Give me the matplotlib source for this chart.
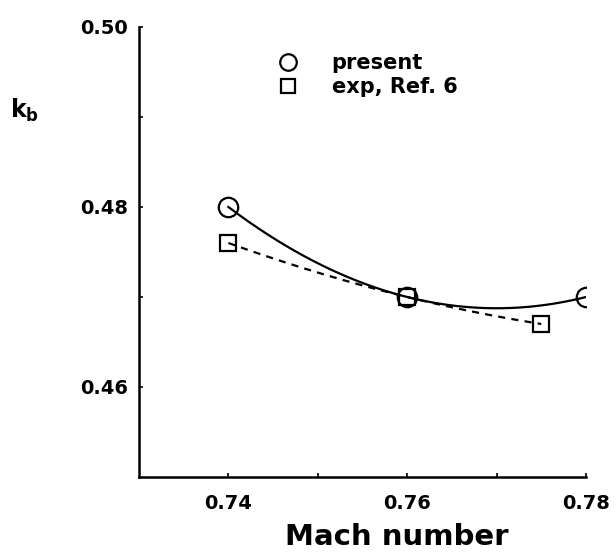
import numpy as np
import matplotlib
matplotlib.use("Agg")
import matplotlib.pyplot as plt

plt.rcParams['font.family'] = ['DejaVu Sans']
plt.rcParams['mathtext.default'] = 'bf'

# data
mach_present = [0.74, 0.76, 0.78]
kb_present = [0.480, 0.470, 0.470]
mach_exp = [0.74, 0.76, 0.775]
kb_exp = [0.476, 0.470, 0.467]
xticks = [0.74, 0.76, 0.78]
xtick_labels = ["0.74", "0.76", "0.78"]
yticks = [0.46, 0.48, 0.50]
ytick_labels = ["0.46", "0.48", "0.50"]

fig = plt.figure(figsize=(6.16, 5.56), dpi=100)
ax = fig.add_axes([139/616, 1-477/556, (586-139)/616, (477-27)/556])

# smooth curves through the data points
cp = np.polyfit(mach_present, kb_present, 2)
xs = np.linspace(mach_present[0], mach_present[-1], 200)
ax.plot(xs, np.polyval(cp, xs), color='black', lw=1.6, zorder=2)
ce = np.polyfit(mach_exp, kb_exp, 2)
xe = np.linspace(mach_exp[0], mach_exp[-1], 200)
ax.plot(xe, np.polyval(ce, xe), color='black', lw=1.6, ls=(0, (3.2, 2.8)), zorder=2)

ax.plot(mach_present, kb_present, 'o', ms=14, mfc='none', mec='black', mew=1.6,
        label='present', zorder=3)
ax.plot(mach_exp, kb_exp, 's', ms=12, mfc='none', mec='black', mew=1.6,
        label='exp, Ref. 6', zorder=3)

leg = ax.legend(loc='upper left', bbox_to_anchor=(0.268, 0.984), frameon=False,
                handlelength=1.0, handletextpad=1.6, labelspacing=0.2,
                markerscale=0.85, prop={'size': 15, 'weight': 'bold'})

ax.set_xlim(0.73, 0.78)
ax.set_ylim(0.45, 0.50)
for s in ['top', 'right']:
    ax.spines[s].set_visible(False)
for s in ['left', 'bottom']:
    ax.spines[s].set_linewidth(1.8)

ax.set_xticks(xticks)
ax.set_xticklabels(xtick_labels, fontsize=14, fontweight='bold')
ax.set_yticks(yticks)
ax.set_yticklabels(ytick_labels, fontsize=14, fontweight='bold')
ax.set_xticks([0.75, 0.77], minor=True)
ax.set_yticks([0.47, 0.49], minor=True)
ax.tick_params(axis='both', which='both', direction='in', length=3, width=1.2)
ax.tick_params(axis='x', which='major', pad=12)
ax.tick_params(axis='y', which='major', pad=8)

ax.set_xlabel('Mach number', fontsize=21, fontweight='bold')
ax.xaxis.set_label_coords(0.577, -0.102)
ax.text(-0.255, 0.815, r'k$_{b}$', transform=ax.transAxes, fontsize=17,
        fontweight='bold', ha='center', va='center')

fig.savefig('out.png', dpi=100)
